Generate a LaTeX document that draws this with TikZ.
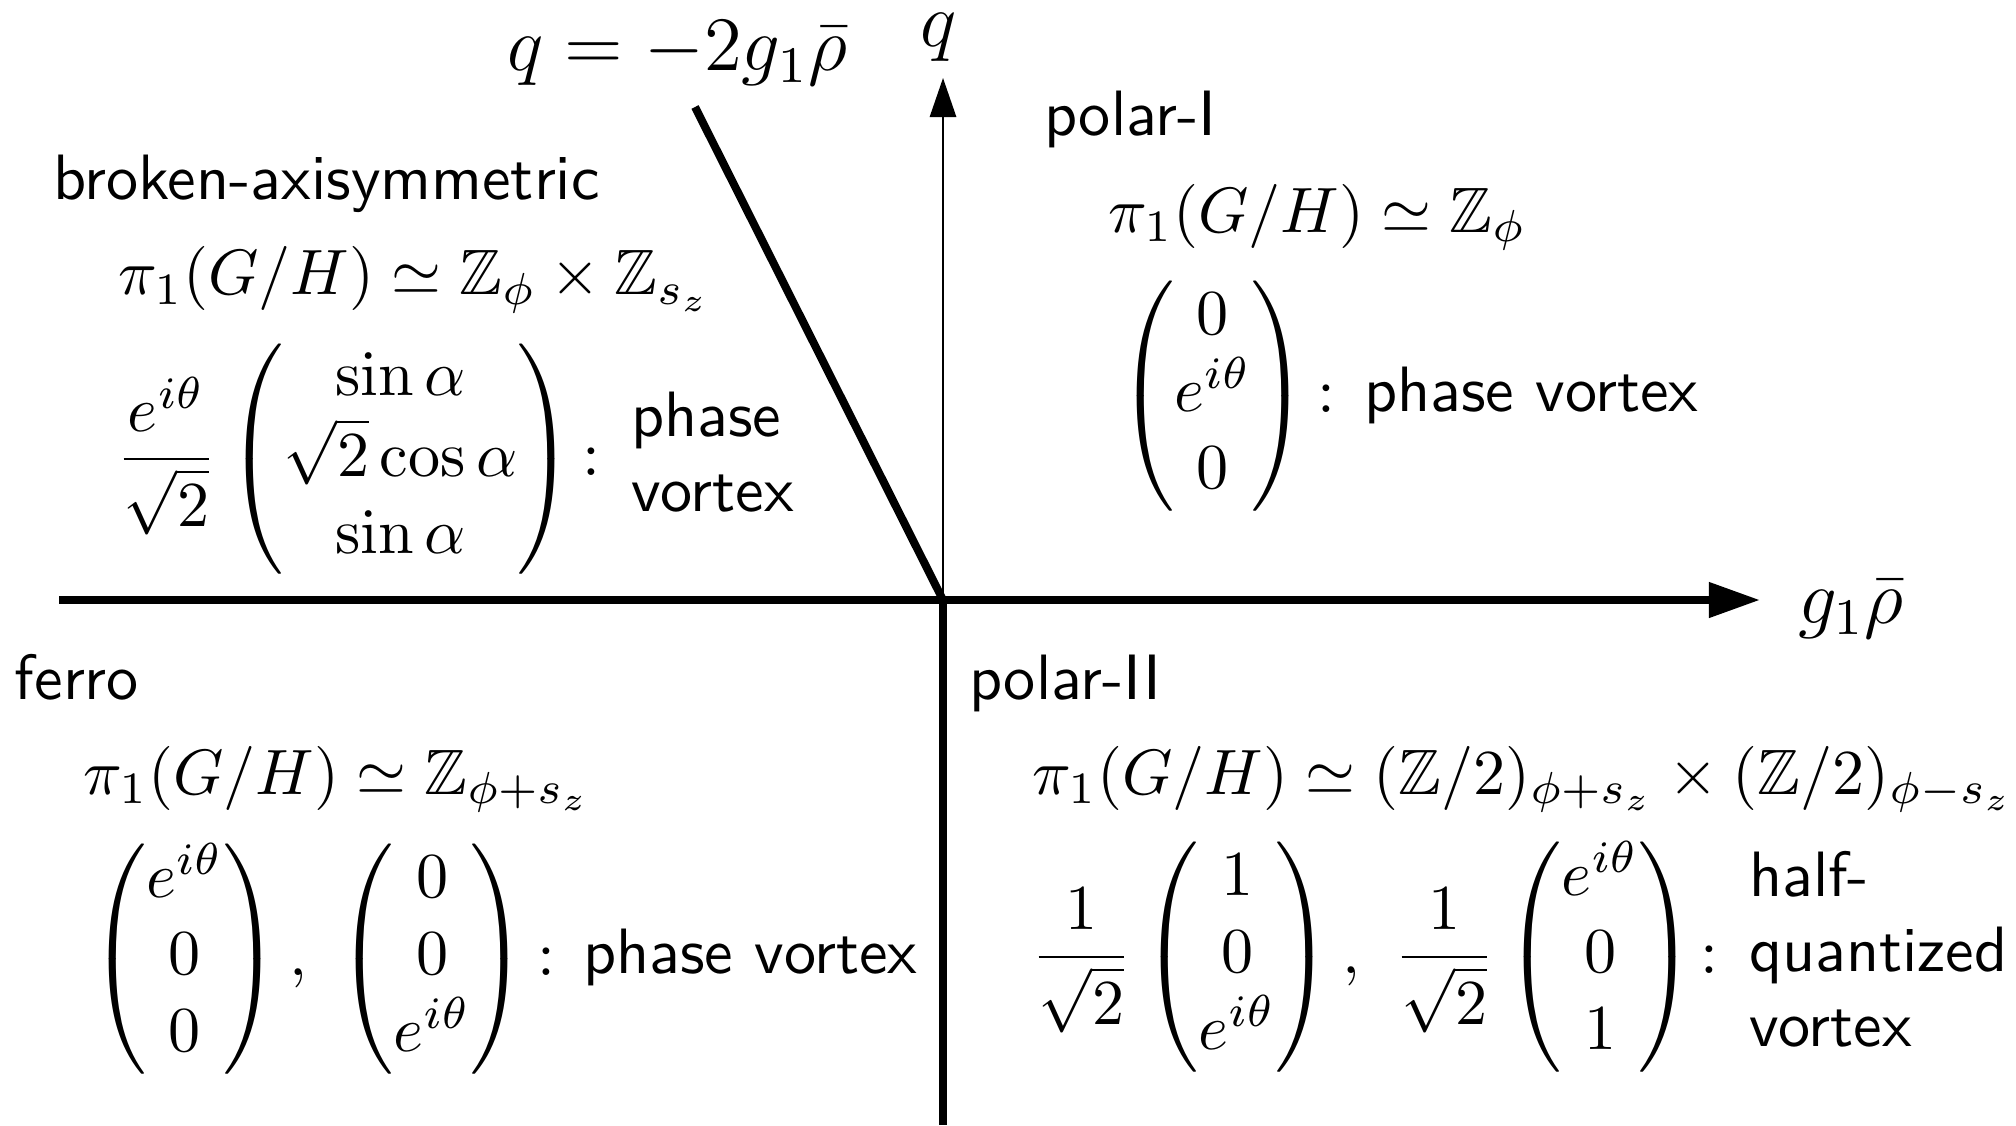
\documentclass[tikz,border=0pt]{standalone}
\usepackage{amsmath,amssymb}
\usetikzlibrary{arrows.meta}
\begin{document}
\begin{tikzpicture}[x=0.156pt,y=-0.156pt,
  txt/.style={anchor=base west,inner sep=0pt,outer sep=0pt,font=\sffamily},
  mth/.style={anchor=base west,inner sep=0pt,outer sep=0pt},
  colon/.style={anchor=base,inner sep=0pt,outer sep=0pt},
  thickax/.style={line width=1.25pt},
  thinax/.style={line width=0.35pt}]
\path[use as bounding box,fill=white] (0,0) rectangle (2016,1125);
% axes
\coordinate (O) at (943,600);
\coordinate (xl) at (59,600);
\coordinate (xr) at (1760,600);
\coordinate (yt) at (943,78);
\coordinate (yb) at (943,1125);
\coordinate (dg) at (695,107);
\draw[thickax,-{Triangle[length=8pt,width=5.3pt]}] (xl) -- (xr);
\draw[thinax,-{Triangle[length=6.1pt,width=4.1pt]}] (O) -- (yt);
\draw[thickax] (O) -- (yb);
\draw[thickax] (dg) -- (O);
% axis labels
\node[mth,anchor=base,font=\large] (ql) at (939,47) {$q$};
\node[mth,font=\large] (gl) at (1798,623) {$g_1\bar\rho$};
\node[mth,font=\large] (dl) at (507,71) {$q=-2g_1\bar\rho$};
% broken-axisymmetric
\node[txt] (bname) at (53,199) {broken-axisymmetric};
\node[mth] (bpi) at (118,295) {$\pi_1(G/H)\simeq\mathbb{Z}_\phi\times\mathbb{Z}_{s_z}$};
\node[mth] (bmat) at (116,475) {$\displaystyle\frac{e^{i\theta}}{\sqrt{2}}\begin{pmatrix}\sin\alpha\\ \sqrt{2}\cos\alpha\\ \sin\alpha\end{pmatrix}$};
\node[colon] (bc) at (591,475) {$:$};
\node[txt] (bv1) at (631,436) {phase};
\node[txt] (bv2) at (631,511) {vortex};
% polar-I
\node[txt] (pIname) at (1044,136) {polar-I};
\node[mth] (pIpi) at (1108,232) {$\pi_1(G/H)\simeq\mathbb{Z}_\phi$};
\node[mth] (pImat) at (1118,412) {$\begin{pmatrix}0\\ e^{i\theta}\\ 0\end{pmatrix}$};
\node[colon] (pIc) at (1326,412) {$:$};
\node[txt] (pIv) at (1364,411) {phase vortex};
% ferro
\node[txt] (fname) at (15,699) {ferro};
\node[mth] (fpi) at (83,794) {$\pi_1(G/H)\simeq\mathbb{Z}_{\phi+s_z}$};
\node[mth] (fmat) at (90,975) {$\begin{pmatrix}e^{i\theta}\\ 0\\ 0\end{pmatrix},\kern3pt\begin{pmatrix}0\\ 0\\ e^{i\theta}\end{pmatrix}$};
\node[colon] (fc) at (546,975) {$:$};
\node[txt] (fv) at (583,973) {phase vortex};
% polar-II
\node[txt] (pIIname) at (969,699) {polar-II};
\node[mth] (pIIpi) at (1032,794) {$\pi_1(G/H)\simeq(\mathbb{Z}/2)_{\phi+s_z}\times(\mathbb{Z}/2)_{\phi-s_z}$};
\node[mth] (pIImat) at (1031,973) {$\displaystyle\frac{1}{\sqrt{2}}\begin{pmatrix}1\\ 0\\ e^{i\theta}\end{pmatrix},\mkern6.5mu\frac{1}{\sqrt{2}}\begin{pmatrix}e^{i\theta}\\ 0\\ 1\end{pmatrix}$};
\node[colon] (pIIc) at (1709,973) {$:$};
\node[txt] (pIIv1) at (1749,896) {half-};
\node[txt] (pIIv2) at (1749,971) {quantized};
\node[txt] (pIIv3) at (1749,1046) {vortex};
\end{tikzpicture}
\end{document}
